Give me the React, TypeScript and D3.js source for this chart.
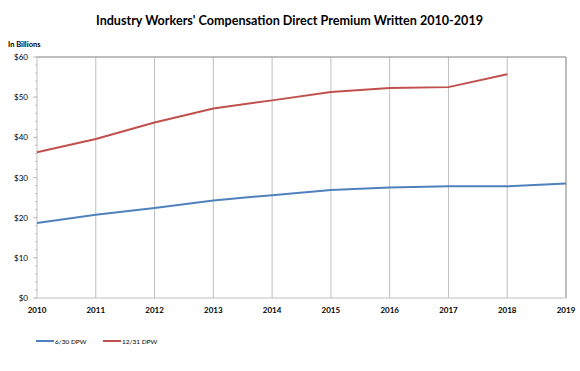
import React from "react";
import * as d3 from "d3";

const years = [2010, 2011, 2012, 2013, 2014, 2015, 2016, 2017, 2018, 2019];
const dpw630 = [18.7, 20.7, 22.4, 24.3, 25.6, 26.9, 27.5, 27.8, 27.8, 28.5];
const dpw1231 = [36.3, 39.6, 43.7, 47.2, 49.2, 51.3, 52.3, 52.5, 55.7];
const yTicks = [0, 10, 20, 30, 40, 50, 60];
const seriesNames = ["6/30 DPW", "12/31 DPW"];
const colors = ["#4F81BD", "#C0504D"];

export default function App() {
  const W = 580, H = 371;
  const left = 37, right = 566, top = 57, bottom = 298;
  const x = d3.scaleLinear().domain([2010, 2019]).range([left, right]);
  const y = d3.scaleLinear().domain([0, 60]).range([bottom, top]);
  const line = d3.line<number>().x((_, i) => x(years[i])).y((d) => y(d));
  const minor = d3.range(0, 61, 2);
  const font = "Lato, 'Open Sans', sans-serif";
  return (
    <svg width={W} height={H} style={{ position: "absolute", left: 0, top: 0, background: "#fff" }} fontFamily={font}>
      <text x={289.5} y={25} textAnchor="middle" fontSize={14} fontWeight="bold" fill="#000" textLength={387} lengthAdjust="spacingAndGlyphs">
        Industry Workers' Compensation Direct Premium Written 2010-2019
      </text>
      <text x={8} y={47} fontSize={7.5} fontWeight="bold" fill="#000">In Billions</text>
      {years.slice(1, -1).map((yr) => (
        <line key={yr} x1={x(yr)} x2={x(yr)} y1={top} y2={bottom} stroke="#BFBFBF" strokeWidth={1} />
      ))}
      <line x1={left} x2={right} y1={top} y2={top} stroke="#7F7F7F" strokeWidth={1} />
      <line x1={right} x2={right} y1={top} y2={bottom} stroke="#7F7F7F" strokeWidth={1} />
      <line x1={left} x2={left} y1={top} y2={bottom} stroke="#BFBFBF" strokeWidth={1} />
      <line x1={left} x2={right} y1={bottom} y2={bottom} stroke="#BFBFBF" strokeWidth={1} />
      {minor.map((v) => (
        <line key={"m" + v} x1={left - 2} x2={left} y1={y(v)} y2={y(v)} stroke="#BFBFBF" strokeWidth={1} />
      ))}
      {yTicks.map((v) => (
        <g key={v}>
          <line x1={left - 4} x2={left} y1={y(v)} y2={y(v)} stroke="#BFBFBF" strokeWidth={1} />
          <text x={left - 9} y={y(v) + 3} textAnchor="end" fontSize={8} fill="#000">{"$" + v}</text>
        </g>
      ))}
      {years.map((yr) => (
        <text key={yr} x={x(yr)} y={313} textAnchor="middle" fontSize={8} fontWeight="bold" fill="#000">{yr}</text>
      ))}
      <path d={line(dpw630) || ""} fill="none" stroke={colors[0]} strokeWidth={2} />
      <path d={line(dpw1231) || ""} fill="none" stroke={colors[1]} strokeWidth={2} />
      {seriesNames.map((n, i) => (
        <g key={n}>
          <line x1={36 + i * 67} x2={54 + i * 67} y1={341} y2={341} stroke={colors[i]} strokeWidth={2} />
          <text x={55 + i * 67} y={343.5} fontSize={6.5} fill="#000">{n}</text>
        </g>
      ))}
    </svg>
  );
}
